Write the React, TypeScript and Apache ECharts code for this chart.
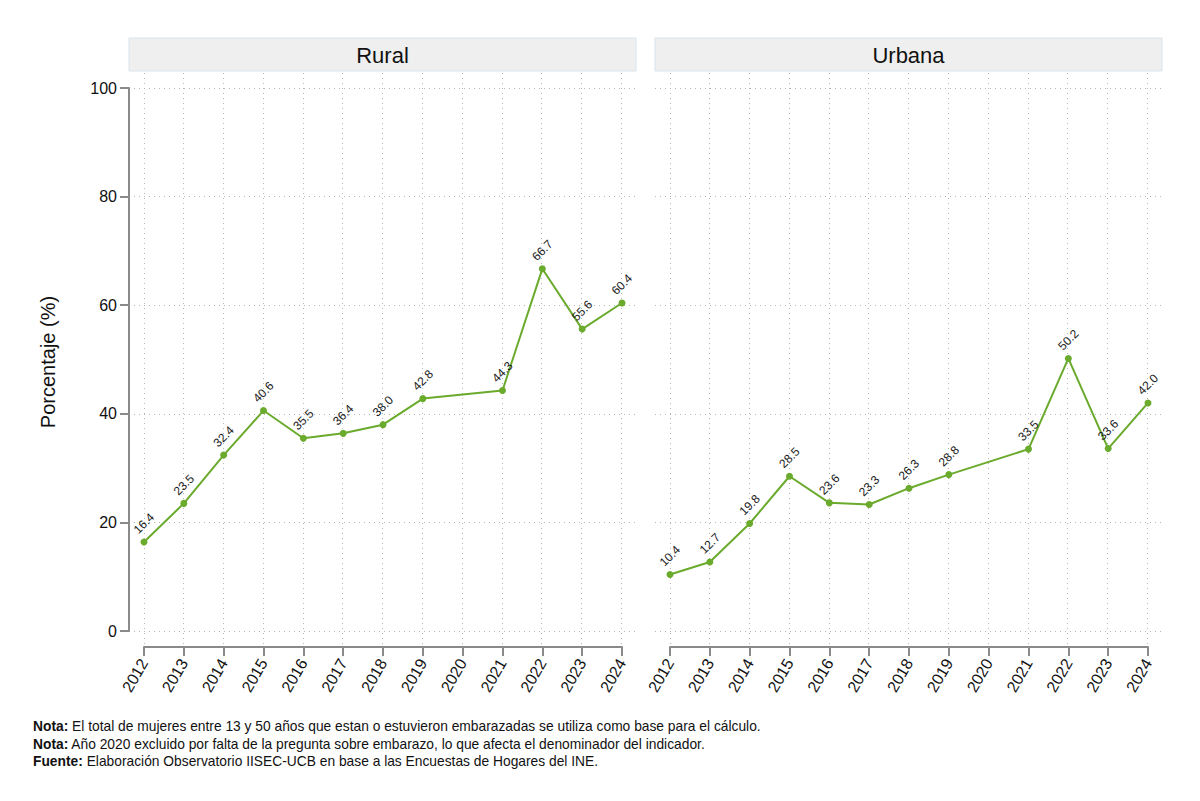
import React, { useEffect, useRef } from "react";
import * as echarts from "echarts";

const years = ["2012", "2013", "2014", "2015", "2016", "2017", "2018", "2019", "2020", "2021", "2022", "2023", "2024"];
const rural = [16.4, 23.5, 32.4, 40.6, 35.5, 36.4, 38.0, 42.8, null, 44.3, 66.7, 55.6, 60.4];
const urbana = [10.4, 12.7, 19.8, 28.5, 23.6, 23.3, 26.3, 28.8, null, 33.5, 50.2, 33.6, 42.0];
const panelTitles = ["Rural", "Urbana"];
const yMin = 0;
const yMax = 100;
const yStep = 20;
const yTitle = "Porcentaje (%)";
const notes = [
  ["Nota:", " El total de mujeres entre 13 y 50 años que estan o estuvieron embarazadas se utiliza como base para el cálculo."],
  ["Nota:", " Año 2020 excluido por falta de la pregunta sobre embarazo, lo que afecta el denominador del indicador."],
  ["Fuente:", " Elaboración Observatorio IISEC-UCB en base a las Encuestas de Hogares del INE."],
];

const FONT = '"Liberation Sans Narrow", "Arial Narrow", "Liberation Sans", Arial, sans-serif';
const GREEN = "#6aaa2c";
const AXIS = "#8a8a8a";
const GRID = "#b5b5b5";

export default function App() {
  const ref = useRef<HTMLDivElement>(null);

  useEffect(() => {
    if (!ref.current) return;
    const chart = echarts.init(ref.current, undefined, { renderer: "svg" });

    const panels = [
      { innerLeft: 144, outerLeft: 129, data: rural },
      { innerLeft: 670, outerLeft: 655, data: urbana },
    ];
    const innerW = 478;
    const outerW = 507;
    const innerTop = 88;
    const innerH = 543;
    const outerTop = 73;
    const outerH = 573;
    const padX = 15 / (innerW / (years.length - 1));
    const padY = 15 / (innerH / (yMax - yMin));
    const firstYear = Number(years[0]);
    const lastYear = Number(years[years.length - 1]);

    const grids: any[] = [];
    const xAxes: any[] = [];
    const yAxes: any[] = [];
    const series: any[] = [];

    panels.forEach((p, i) => {
      grids.push({ left: p.outerLeft, top: outerTop, width: outerW, height: outerH });
      xAxes.push({
        type: "value",
        gridIndex: 2 * i,
        min: firstYear - padX,
        max: lastYear + padX,
        minInterval: 1,
        maxInterval: 1,
        axisLine: { show: false },
        axisTick: { show: false },
        axisLabel: { show: false },
        splitLine: { show: true, showMinLine: false, showMaxLine: false, lineStyle: { color: GRID, type: [1, 4], width: 1 } },
      });
      yAxes.push({
        type: "value",
        gridIndex: 2 * i,
        min: yMin - padY,
        max: yMax + padY,
        minInterval: yStep,
        maxInterval: yStep,
        axisLine: { show: false },
        axisTick: { show: false },
        axisLabel: { show: false },
        splitLine: { show: true, showMinLine: false, showMaxLine: false, lineStyle: { color: GRID, type: [1, 4], width: 1 } },
      });

      grids.push({ left: p.innerLeft, top: innerTop, width: innerW, height: innerH });
      xAxes.push({
        type: "category",
        gridIndex: 2 * i + 1,
        data: years,
        boundaryGap: false,
        offset: 16,
        axisLine: { show: true, onZero: false, lineStyle: { color: AXIS, width: 2 } },
        axisTick: { show: true, length: 9, lineStyle: { color: AXIS, width: 2 } },
        axisLabel: { rotate: 60, fontSize: 16, color: "#111", fontFamily: FONT, margin: 13, interval: 0 },
        splitLine: { show: false },
      });
      yAxes.push({
        type: "value",
        gridIndex: 2 * i + 1,
        min: yMin,
        max: yMax,
        interval: yStep,
        offset: 15,
        axisLine: { show: i === 0, onZero: false, lineStyle: { color: AXIS, width: 2 } },
        axisTick: { show: i === 0, length: 9, lineStyle: { color: AXIS, width: 2 } },
        axisLabel: { show: i === 0, fontSize: 16, color: "#111", fontFamily: FONT, margin: 12 },
        splitLine: { show: false },
      });

      series.push({
        type: "line",
        xAxisIndex: 2 * i + 1,
        yAxisIndex: 2 * i + 1,
        data: p.data,
        connectNulls: true,
        symbol: "circle",
        symbolSize: 7,
        lineStyle: { color: GREEN, width: 2 },
        itemStyle: { color: GREEN },
        clip: false,
        label: {
          show: true,
          position: "top",
          distance: 15,
          rotate: 45,
          align: "center",
          verticalAlign: "middle",
          fontSize: 12,
          color: "#222",
          fontFamily: FONT,
          formatter: (d: any) => Number(d.value).toFixed(1),
        },
      });
    });

    const graphics: any[] = [];
    panels.forEach((p, i) => {
      graphics.push({
        type: "rect",
        shape: { x: p.outerLeft, y: 38, width: outerW, height: 33 },
        style: { fill: "#efefef", stroke: "#d8e3ea", lineWidth: 1 },
      });
      graphics.push({
        type: "text",
        x: p.outerLeft + outerW / 2,
        y: 55,
        style: { text: panelTitles[i], fontSize: 22, fontFamily: FONT, fill: "#111", align: "center", verticalAlign: "middle" },
      });
    });
    graphics.push({
      type: "text",
      x: 48,
      y: 362,
      rotation: Math.PI / 2,
      style: { text: yTitle, fontSize: 20, fontFamily: FONT, fill: "#111", align: "center", verticalAlign: "middle" },
    });
    notes.forEach((n, k) => {
      graphics.push({
        type: "text",
        x: 33,
        y: 726 + k * 17.5,
        scaleX: 0.92,
        style: {
          text: `{b|${n[0]}}{r|${n[1]}}`,
          verticalAlign: "middle",
          rich: {
            b: { fontWeight: "bold", fontSize: 15, fontFamily: FONT, fill: "#111" },
            r: { fontSize: 15, fontFamily: FONT, fill: "#111" },
          },
        },
      });
    });

    chart.setOption({
      animation: false,
      backgroundColor: "#ffffff",
      grid: grids,
      xAxis: xAxes,
      yAxis: yAxes,
      series,
      graphic: graphics,
    });

    return () => chart.dispose();
  }, []);

  return (
    <div
      ref={ref}
      style={{ position: "fixed", left: 0, top: 0, width: 1200, height: 801, background: "#fff" }}
    />
  );
}
